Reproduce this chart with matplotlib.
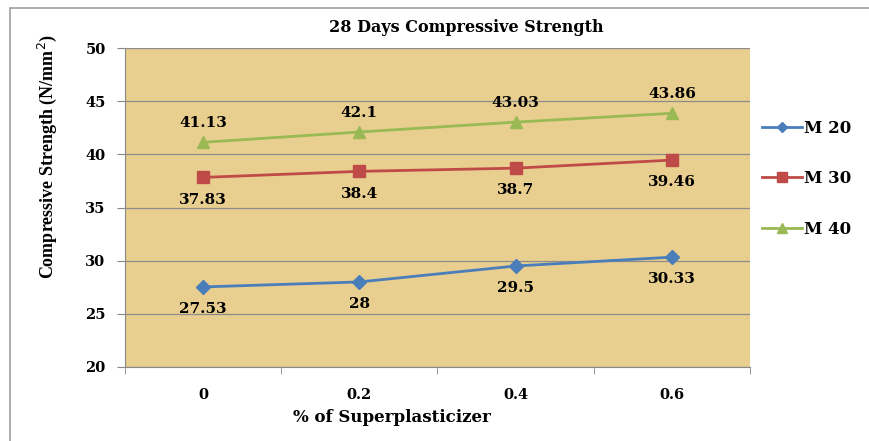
import matplotlib.pyplot as plt
from matplotlib.patches import Rectangle

categories = ['0', '0.2', '0.4', '0.6']
m20 = [27.53, 28, 29.5, 30.33]
m30 = [37.83, 38.4, 38.7, 39.46]
m40 = [41.13, 42.1, 43.03, 43.86]

serif = 'Liberation Serif'
wide = 'DejaVu Serif'
fig = plt.figure(figsize=(8.7, 4.41), dpi=100)

# outer chart frame
fig.patches.append(Rectangle((10 / 870, -0.02), 1.0, 1 - 8 / 441 + 0.02,
                             transform=fig.transFigure, fill=False,
                             edgecolor='#a0a0a0', lw=1.2))

ax = fig.add_axes([125 / 870, 74 / 441, 625 / 870, 319 / 441])
ax.set_facecolor('#e9cf8f')

x = range(len(categories))
ax.plot(x, m20, color='#4a7ebb', lw=2, marker='D', ms=7, label='M 20')
ax.plot(x, m30, color='#be4b48', lw=2, marker='s', ms=9, label='M 30')
ax.plot(x, m40, color='#98b954', lw=2, marker='^', ms=9, label='M 40')

lab = dict(fontsize=11, fontweight='bold', family=wide, ha='center', va='center')
for i in x:
    ax.annotate(f'{m40[i]:g}', (i, m40[i]), xytext=(0, 14), textcoords='offset points', **lab)
    ax.annotate(f'{m30[i]:g}', (i, m30[i]), xytext=(0, -16), textcoords='offset points', **lab)
    ax.annotate(f'{m20[i]:g}', (i, m20[i]), xytext=(0, -16), textcoords='offset points', **lab)

ax.set_xlim(-0.5, 3.5)
ax.set_ylim(20, 50)
ax.set_yticks(range(20, 51, 5))
ax.set_xticks(list(x))
ax.set_xticklabels(categories)
ax.set_xticks([-0.5, 0.5, 1.5, 2.5, 3.5], minor=True)
ax.tick_params(axis='x', which='major', length=0, pad=15)
ax.tick_params(axis='x', which='minor', length=5, color='#888888')
ax.tick_params(axis='y', length=6, color='#888888', pad=8)
for t in ax.get_xticklabels() + ax.get_yticklabels():
    t.set_fontfamily(wide)
    t.set_fontweight('bold')
    t.set_fontsize(10.5)

ax.grid(axis='y', color='#8c8c8c', lw=0.9)
for s in ['top', 'right']:
    ax.spines[s].set_visible(False)
for s in ['left', 'bottom']:
    ax.spines[s].set_color('#888888')

fig.text(466 / 870, 1 - 27 / 441, '28 Days Compressive Strength', ha='center', va='center',
         fontsize=11.5, fontweight='bold', family=wide)
fig.text(392 / 870, 1 - 418 / 441, '% of Superplasticizer', ha='center', va='center',
         fontsize=12, fontweight='bold', family=wide)
fig.text(47 / 870, 1 - 157 / 441, 'Compressive Strength (N/mm$^2$)', ha='center', va='center',
         rotation=90, fontsize=13, fontweight='bold', family=serif)

leg = ax.legend(loc='center left', bbox_to_anchor=(0.995, 0.59), frameon=False,
                labelspacing=2.0, handlelength=2.4, handletextpad=0.1,
                markerscale=0.8,
                prop={'family': wide, 'weight': 'bold', 'size': 12})

plt.savefig('out.png')
